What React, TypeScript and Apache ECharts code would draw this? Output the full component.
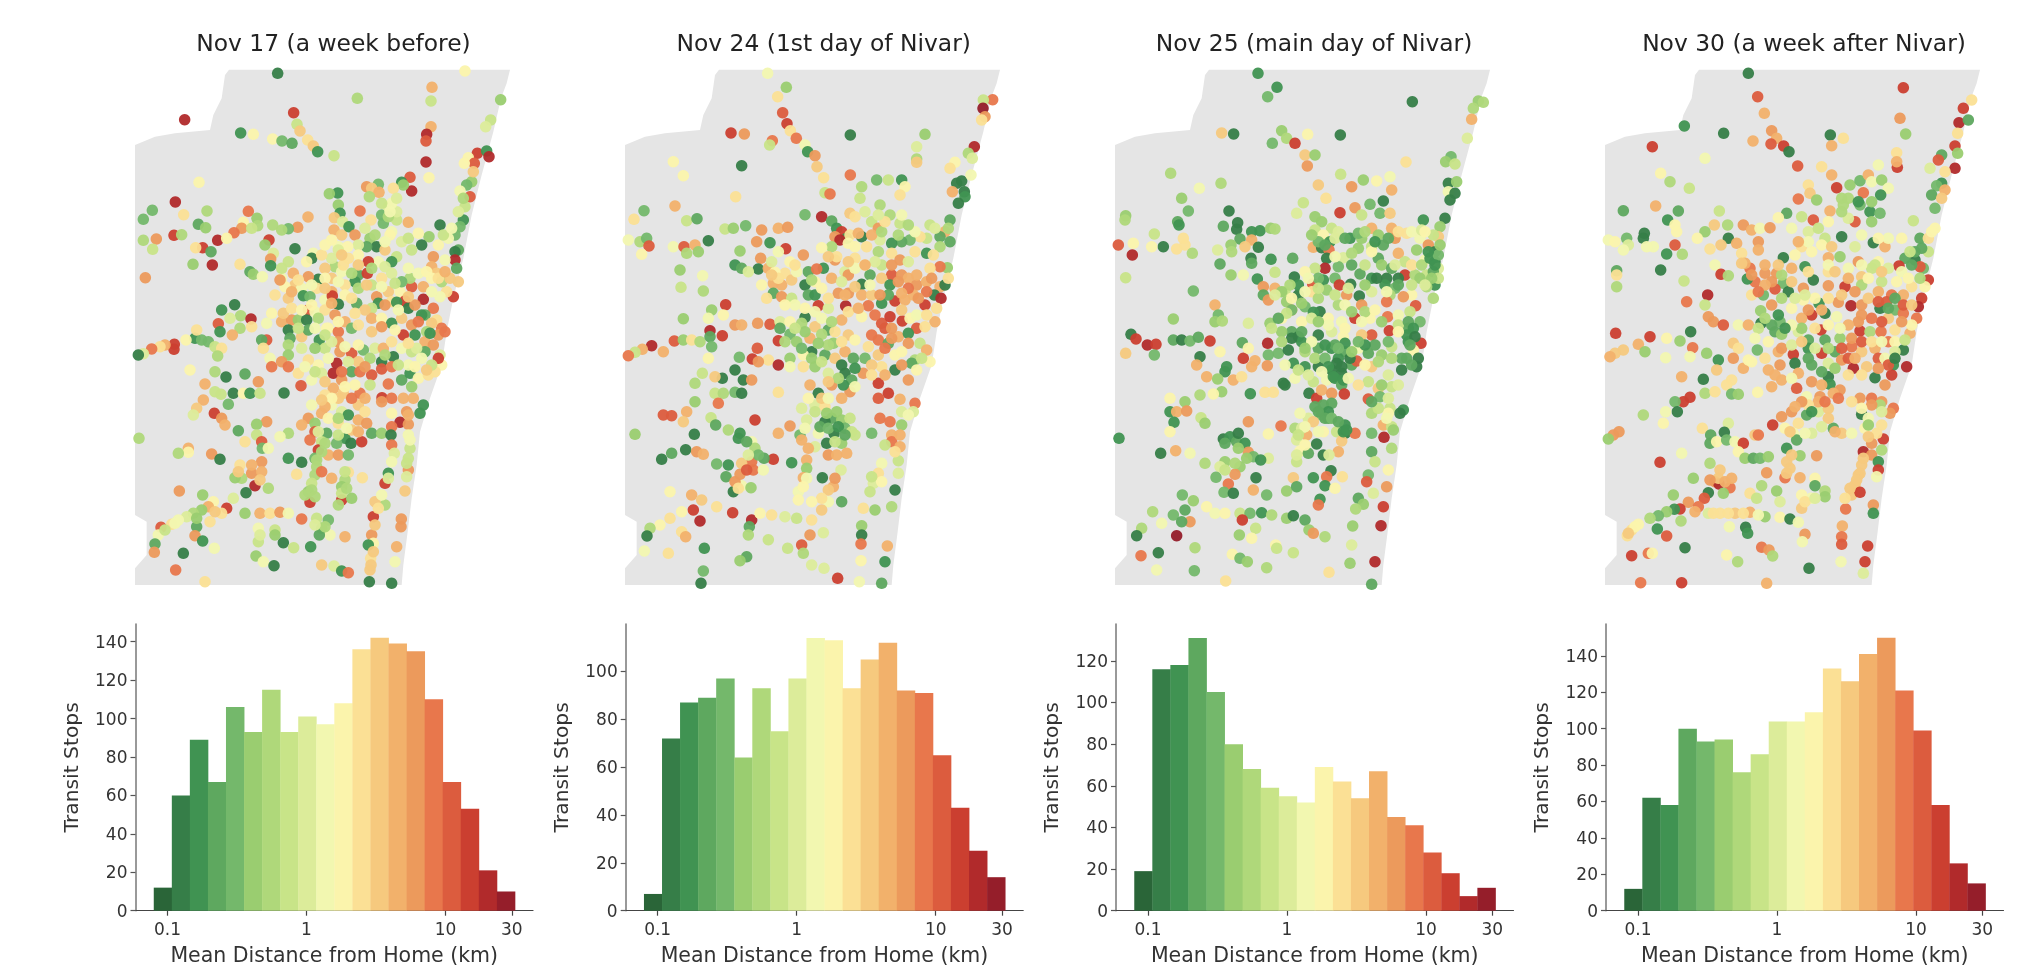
import React, { useEffect, useRef } from "react";
import * as echarts from "echarts";

const panelTitles = ["Nov 17 (a week before)", "Nov 24 (1st day of Nivar)", "Nov 25 (main day of Nivar)", "Nov 30 (a week after Nivar)"];
const binEdges = [0.0797, 0.1075, 0.1449, 0.1955, 0.2636, 0.3556, 0.4795, 0.6467, 0.8722, 1.176, 1.586, 2.139, 2.885, 3.891, 5.248, 7.078, 9.546, 12.87, 17.36, 23.42, 31.58];
const binColors = ["#2a6538", "#367e48", "#409352", "#5ea85f", "#74b86b", "#9acd70", "#afd87a", "#c8e488", "#dcec9a", "#f2f7b0", "#fbf4ac", "#fbe095", "#f6c97e", "#f2b16b", "#ec9a5c", "#e8774c", "#dc5c3e", "#cb3f30", "#b12a2b", "#951e2a"];
const xTicks = [0.1, 1, 10, 30];
const xTickLabels = ["0.1", "1", "10", "30"];
const countsNov17 = [12, 60, 89, 67, 106, 93, 115, 93, 101, 97, 108, 136, 142, 139, 135, 110, 67, 53, 21, 10];
const countsNov24 = [7, 72, 87, 89, 97, 64, 93, 75, 97, 114, 113, 93, 105, 112, 92, 91, 65, 43, 25, 14];
const countsNov25 = [19, 116, 118, 131, 105, 80, 68, 59, 55, 52, 69, 62, 54, 67, 45, 41, 28, 18, 7, 11];
const countsNov30 = [12, 62, 58, 100, 93, 94, 76, 86, 104, 104, 109, 133, 126, 141, 150, 121, 99, 58, 26, 15];
const yTicksNov17 = [0, 20, 40, 60, 80, 100, 120, 140];
const yTicksNov24 = [0, 20, 40, 60, 80, 100];
const yTicksNov25 = [0, 20, 40, 60, 80, 100, 120];
const yTicksNov30 = [0, 20, 40, 60, 80, 100, 120, 140];
const yMaxes = [149.2, 119.8, 137.7, 157.5];

const landOutline = [[300, 30], [312, 14], [1155, 14], [1145, 55], [1128, 100], [1105, 200], [1070, 330], [1040, 450], [1015, 580], [985, 700], [965, 800], [950, 900], [915, 1000], [885, 1100], [875, 1200], [860, 1300], [848, 1400], [835, 1500], [830, 1560], [30, 1560], [30, 1510], [65, 1470], [65, 1370], [30, 1350], [30, 240], [90, 215], [150, 205], [255, 195], [265, 150], [290, 100]];

const stopsNov17 = [[458,25,1],[1020,18,10],[921,67,13],[918,108,7],[697,100,6],[1127,104,5],[506,143,17],[179,164,18],[1097,165,7],[1082,185,8],[918,185,13],[905,208,18],[903,228,16],[347,204,2],[385,208,10],[516,178,7],[525,198,12],[443,222,10],[471,228,4],[501,235,3],[548,225,11],[565,243,12],[578,260,2],[627,272,7],[903,291,18],[1057,265,17],[1085,258,2],[1092,275,18],[1030,278,10],[1048,295,16],[1018,295,10],[222,352,10],[151,411,18],[82,436,4],[55,463,4],[246,438,6],[176,449,11],[55,526,6],[94,522,14],[83,553,7],[147,511,17],[170,509,6],[220,478,3],[242,488,5],[278,526,18],[233,548,17],[212,548,11],[258,560,3],[262,600,18],[204,598,5],[61,638,14],[370,439,15],[396,460,5],[398,482,6],[355,472,10],[350,490,14],[327,503,15],[305,520,10],[549,456,13],[518,487,14],[490,491,4],[470,495,6],[443,480,6],[380,490,7],[432,525,17],[1040,350,5],[1025,360,4],[1005,378,9],[1045,320,12],[1035,395,16],[1020,425,7],[1015,465,2],[1005,485,4],[990,510,4],[945,480,1],[912,515,5],[970,520,9],[1000,555,3],[990,560,1],[990,585,18],[995,610,3],[960,585,9],[925,575,14],[920,605,13],[935,625,12],[1000,650,12],[985,695,17],[965,680,11],[945,695,9],[855,337,16],[860,378,18],[830,352,2],[835,360,5],[912,338,10],[805,370,11],[760,358,4],[725,365,14],[740,370,12],[762,382,13],[733,395,6],[638,384,2],[613,386,5],[640,420,5],[645,445,2],[628,458,12],[653,470,8],[705,438,15],[738,465,11],[770,450,4],[790,425,8],[815,465,7],[815,440,8],[800,500,9],[850,472,13],[775,475,4],[790,455,6],[627,495,13],[650,510,12],[672,485,2],[690,510,14],[735,520,5],[755,545,1],[725,545,3],[700,540,8],[640,545,9],[620,525,10],[668,545,10],[795,510,10],[830,530,8],[890,540,1],[860,555,7],[815,575,7],[780,555,12],[800,590,2],[760,590,9],[730,590,17],[700,570,10],[670,580,11],[630,605,6],[600,610,12],[565,565,9],[560,580,1],[510,551,1],[420,540,5],[445,565,8],[437,582,14],[437,602,2],[490,590,7],[545,590,10],[375,620,3],[385,628,5],[412,635,9],[345,598,11],[470,640,9],[505,625,13],[470,610,7],[580,643,1],[700,630,3],[727,625,17],[690,650,2],[740,660,7],[660,660,11],[620,640,12],[550,635,14],[510,660,12],[480,665,10],[465,645,14],[530,670,9],[575,670,11],[620,680,13],[660,690,10],[700,670,6],[755,695,14],[790,680,12],[825,680,10],[860,665,16],[855,640,6],[800,625,8],[880,625,9],[920,640,10],[950,650,6],[830,650,4],[770,640,11],[535,692,2],[555,695,4],[490,700,12],[450,690,11],[600,705,9],[622,693,17],[640,718,1],[695,715,3],[760,715,2],[740,730,7],[800,710,11],[840,708,17],[895,703,18],[925,730,15],[850,730,1],[815,712,2],[870,720,14],[900,750,3],[935,765,11],[950,790,15],[329,719,1],[290,735,2],[347,752,6],[378,762,18],[315,760,8],[440,745,10],[280,776,16],[285,800,2],[345,790,6],[322,810,13],[380,785,11],[425,775,9],[470,770,13],[500,765,14],[520,765,5],[550,735,16],[545,765,1],[570,740,9],[600,735,11],[630,750,14],[660,770,13],[610,790,10],[640,800,15],[580,760,6],[680,790,4],[700,780,11],[740,760,13],[770,760,10],[800,775,2],[830,760,12],[860,780,14],[890,750,2],[920,775,12],[905,800,6],[940,810,14],[960,800,15],[210,820,2],[230,825,4],[250,830,4],[215,795,11],[183,825,10],[148,838,17],[147,853,17],[120,840,13],[105,845,11],[80,852,15],[55,866,8],[40,870,1],[270,845,7],[290,850,11],[278,873,6],[425,825,16],[410,825,3],[415,850,11],[435,880,9],[490,795,1],[495,820,3],[490,840,6],[530,815,12],[550,795,3],[583,825,2],[605,790,10],[640,830,14],[600,850,7],[570,850,5],[530,850,8],[490,870,5],[645,860,14],[680,865,16],[715,855,4],[750,850,8],[775,850,13],[835,810,17],[870,810,2],[900,830,13],[925,840,14],[800,830,11],[830,850,9],[860,860,7],[900,860,3],[945,870,8],[950,900,10],[940,880,17],[805,875,1],[770,890,1],[735,880,6],[700,890,12],[670,890,8],[635,895,18],[610,880,9],[580,900,10],[550,885,11],[195,915,10],[270,920,6],[303,936,1],[360,927,3],[400,950,14],[240,957,13],[528,962,16],[477,984,1],[440,905,15],[470,890,14],[490,905,15],[520,925,11],[560,945,9],[590,925,8],[625,925,18],[650,945,14],[680,920,3],[705,920,15],[740,930,16],[770,912,16],[800,905,15],[830,945,3],[855,925,2],[880,940,10],[910,930,11],[790,957,15],[860,965,5],[930,920,11],[625,970,13],[655,985,12],[705,985,15],[690,960,10],[600,990,11],[735,960,7],[325,985,1],[355,985,10],[375,985,2],[405,985,7],[288,988,7],[270,980,7],[771,998,17],[800,1000,15],[835,1000,13],[865,1000,13],[895,1020,2],[885,1045,2],[310,1018,4],[235,1005,13],[215,1030,12],[205,1050,8],[268,1045,17],[290,1060,14],[300,1080,13],[620,1020,9],[700,1020,12],[650,1040,8],[670,1050,2],[590,1045,13],[550,1060,14],[425,1070,14],[395,1078,5],[340,1097,3],[395,1110,7],[530,1080,13],[570,1075,5],[610,1060,10],[640,1075,11],[700,1065,13],[725,1075,14],[800,1045,10],[845,1040,14],[825,1072,18],[850,1078,14],[800,1085,15],[42,1120,6],[490,1105,6],[465,1115,9],[570,1100,16],[605,1105,3],[660,1120,2],[678,1135,1],[710,1130,17],[740,1105,3],[770,1105,5],[798,1110,1],[635,1135,4],[555,1125,15],[590,1130,7],[410,1130,16],[412,1150,4],[360,1130,11],[430,1150,9],[190,1150,13],[190,1162,10],[160,1165,6],[260,1167,14],[285,1183,1],[580,1155,17],[570,1180,4],[610,1170,13],[640,1170,14],[670,1170,4],[490,1180,2],[530,1192,1],[410,1190,14],[345,1200,11],[800,1140,15],[808,1165,8],[855,1150,7],[575,1205,6],[570,1230,6],[560,1255,7],[590,1220,15],[620,1240,13],[515,1228,11],[350,1240,6],[330,1238,5],[380,1225,14],[390,1262,18],[430,1270,6],[363,1283,1],[410,1220,13],[670,1222,11],[712,1238,11],[660,1245,6],[650,1265,5],[790,1225,2],[780,1255,17],[850,1215,14],[845,1235,8],[840,1278,12],[163,1278,14],[233,1290,5],[265,1310,10],[250,1325,13],[230,1335,5],[205,1345,6],[185,1355,8],[160,1365,9],[140,1378,11],[305,1330,17],[325,1300,8],[360,1345,5],[405,1345,13],[435,1345,11],[465,1342,14],[490,1345,9],[550,1280,5],[555,1312,17],[540,1290,6],[650,1305,17],[680,1300,5],[640,1320,6],[780,1320,6],[750,1310,12],[745,1355,17],[530,1362,15],[575,1360,7],[610,1365,4],[590,1390,5],[615,1410,9],[660,1415,13],[583,1410,3],[400,1390,9],[450,1395,7],[255,1370,11],[215,1385,3],[210,1412,14],[233,1428,2],[108,1387,16],[100,1410,9],[90,1437,3],[88,1462,14],[829,1362,14],[828,1385,14],[740,1410,14],[745,1435,10],[730,1440,2],[815,1445,13],[737,1480,11],[810,1490,9],[735,1515,12],[400,1430,7],[475,1433,1],[506,1448,7],[557,1445,2],[175,1465,1],[268,1450,9],[393,1473,5],[415,1490,9],[447,1502,1],[152,1515,15],[590,1500,12],[627,1503,8],[650,1518,2],[670,1523,15],[733,1550,1],[800,1555,1],[240,1550,11],[700,600,12],[650,620,9],[600,640,10],[560,660,9],[520,645,11],[500,680,13],[560,720,10],[620,715,13],[680,700,11],[720,735,12],[780,720,14],[820,735,9],[880,770,15],[915,805,2],[875,850,8],[850,900,9],[820,900,7],[780,870,6],[720,905,14],[650,920,15],[600,950,12],[570,920,7],[540,905,9],[660,845,9],[620,830,8],[700,840,10],[740,800,12],[770,785,14],[810,795,10],[850,835,11],[890,880,9],[920,900,7],[905,915,12],[870,905,10],[640,770,10],[690,745,11],[600,810,7],[570,790,9],[520,790,7],[475,745,12],[500,730,11],[530,735,10],[600,670,12],[640,650,9],[680,625,6],[725,660,12],[770,665,9],[810,655,7],[850,695,12],[895,665,13],[920,680,9],[940,640,11],[975,640,12],[960,620,13],[905,620,10],[850,610,9],[780,605,8],[740,610,6],[655,600,11],[620,580,8],[590,570,11],[780,530,9],[750,510,6],[720,490,8],[850,520,7],[880,505,10],[940,540,10],[955,510,7],[980,490,9],[1000,440,8],[1015,400,6],[800,415,9],[795,440,9],[815,400,8],[770,415,7],[640,555,8],[600,540,10],[650,570,12],[720,1000,13],[680,1000,15],[640,1000,12],[660,965,10],[620,1000,10],[600,1025,13],[590,1005,12],[560,1020,9],[640,1060,6],[580,1100,8],[600,1135,6],[590,1160,6],[575,1185,6],[680,1095,12],[700,1100,13],[640,1110,7],[665,1090,9],[720,1040,11],[770,1010,14],[850,1050,13],[850,1110,9],[855,1125,9],[850,1180,7],[845,1195,7],[800,1190,9],[790,1240,8],[770,1290,9],[760,1330,11],[750,1380,12],[745,1460,12],[738,1500,12],[560,1275,6],[570,1295,6],[650,1285,7],[660,1220,7],[665,1270,6],[150,1375,9],[120,1395,7],[405,1410,8],[450,1410,5],[600,1385,6],[570,1380,8],[380,1200,13],[340,1220,12],[405,1245,12],[290,1345,11],[270,1340,12],[215,1360,5]];

const stopsNov24 = [[458,25,9],[514,67,5],[488,95,11],[1133,104,15],[1105,105,7],[1104,130,19],[1110,155,14],[1100,165,11],[503,143,16],[516,176,17],[526,197,11],[348,204,17],[388,207,14],[544,220,15],[706,210,1],[930,208,5],[472,227,15],[464,240,7],[570,240,9],[578,260,2],[600,272,14],[606,305,12],[626,338,11],[1078,245,18],[1060,265,6],[1072,280,8],[1020,292,10],[1005,310,11],[905,245,8],[905,282,6],[905,292,12],[380,302,1],[175,290,10],[205,332,10],[706,330,15],[362,395,11],[180,423,13],[87,437,4],[57,463,11],[40,525,9],[75,530,6],[95,520,4],[102,543,16],[80,568,10],[175,545,9],[207,545,16],[215,565,6],[240,540,13],[250,560,5],[280,527,1],[215,467,7],[246,461,3],[195,615,5],[198,667,7],[263,632,9],[265,678,6],[375,558,5],[570,449,4],[620,455,18],[1040,348,1],[1025,355,1],[1068,330,9],[1012,380,13],[1048,380,1],[1050,395,2],[1030,415,1],[785,345,4],[820,345,7],[860,345,2],[870,365,10],[855,390,11],[740,365,6],[735,400,7],[630,383,7],[645,387,15],[795,420,6],[705,445,12],[720,455,11],[750,440,8],[770,470,7],[825,450,6],[855,475,7],[790,490,14],[1005,465,3],[990,500,13],[975,515,3],[945,480,7],[935,520,7],[1005,530,3],[975,545,6],[935,565,2],[915,515,11],[885,525,4],[860,530,3],[830,535,2],[795,525,8],[650,468,3],[665,490,2],[680,500,17],[695,520,2],[660,515,14],[675,525,18],[740,515,1],[705,510,11],[650,545,6],[620,548,10],[755,545,11],[720,545,10],[790,560,6],[830,565,11],[855,585,14],[900,560,11],[880,590,8],[955,570,11],[997,608,5],[975,605,15],[945,610,11],[330,492,7],[355,490,5],[392,482,4],[440,495,14],[490,490,13],[518,487,14],[425,530,14],[465,533,2],[512,551,17],[490,560,9],[437,580,14],[565,570,14],[525,590,10],[430,612,1],[360,600,2],[380,610,3],[400,620,8],[460,610,13],[510,625,11],[480,622,10],[625,610,2],[580,620,3],[605,612,15],[660,585,14],[665,575,11],[720,580,11],[690,620,8],[765,630,3],[830,630,16],[800,640,12],[860,630,14],[880,640,13],[905,660,14],[935,650,13],[975,665,13],[990,660,1],[1000,640,11],[570,660,1],[740,658,1],[475,655,13],[475,685,3],[500,695,14],[530,700,7],[455,700,11],[580,690,3],[600,690,2],[620,670,10],[670,685,14],[700,685,14],[740,690,13],[770,690,12],[800,715,2],[825,660,2],[840,708,17],[870,705,13],[895,690,13],[930,720,17],[958,690,1],[978,700,18],[610,722,17],[640,730,8],[692,723,18],[760,722,15],[965,730,11],[332,719,17],[290,735,5],[325,750,10],[205,761,5],[280,760,9],[285,797,18],[322,812,17],[360,780,14],[380,780,13],[428,775,14],[465,778,16],[495,770,8],[525,770,10],[570,757,1],[680,765,13],[740,755,10],[800,775,16],[825,755,17],[862,768,17],[905,790,16],[960,770,13],[930,785,11],[640,795,3],[600,785,12],[560,775,6],[525,808,4],[495,790,3],[545,830,5],[585,820,13],[620,808,6],[660,800,11],[700,810,12],[770,810,15],[790,825,15],[820,835,3],[850,815,13],[880,805,2],[915,835,7],[178,828,16],[205,825,5],[230,825,11],[255,830,6],[285,815,3],[110,842,18],[82,853,13],[60,862,7],[40,872,15],[145,860,13],[290,845,4],[490,827,17],[427,850,16],[412,882,17],[373,877,4],[280,880,10],[590,860,1],[525,880,5],[565,870,10],[630,870,3],[655,835,5],[690,860,13],[715,880,3],[750,880,4],[790,870,12],[840,870,10],[900,885,6],[935,855,13],[945,890,10],[460,885,11],[490,900,18],[430,890,14],[360,915,1],[385,945,1],[410,945,14],[322,940,1],[300,935,12],[262,925,7],[240,955,6],[525,905,9],[565,905,11],[600,905,5],[640,925,8],[690,925,1],[710,945,3],[745,925,14],[800,905,11],[840,915,1],[890,895,3],[880,945,14],[610,985,1],[490,982,11],[585,960,13],[650,960,14],[790,955,17],[820,985,17],[790,1000,16],[855,1003,13],[705,980,14],[685,960,2],[300,985,7],[325,985,6],[360,982,4],[380,985,1],[310,1015,15],[240,1010,5],[215,1040,13],[205,1070,12],[145,1050,16],[170,1052,16],[288,1058,7],[302,1080,3],[420,1065,17],[900,1015,15],[895,1040,8],[60,1108,5],[238,1108,1],[375,1105,2],[370,1120,2],[340,1095,6],[525,1083,14],[490,1105,13],[575,1065,8],[600,1020,8],[630,1025,11],[650,1060,3],[630,1070,1],[680,1065,5],[705,1060,7],[690,1090,4],[657,1105,1],[610,1105,9],[555,1110,4],[570,1090,9],[720,1110,7],[770,1105,4],[795,1060,15],[825,1070,15],[860,1080,5],[830,1110,13],[830,1130,15],[855,1145,13],[810,1140,7],[560,1125,13],[635,1135,1],[680,1135,5],[410,1130,9],[420,1150,6],[640,1170,14],[665,1170,13],[695,1165,13],[140,1183,1],[170,1165,3],[212,1154,1],[245,1160,14],[265,1168,13],[475,1183,17],[447,1180,3],[530,1193,2],[410,1190,15],[380,1195,12],[340,1200,2],[305,1197,4],[575,1185,13],[800,1195,9],[850,1187,7],[575,1210,5],[678,1215,8],[333,1235,3],[375,1228,14],[380,1262,9],[415,1215,15],[445,1215,9],[355,1280,1],[408,1268,5],[565,1238,13],[622,1238,1],[655,1265,13],[790,1225,11],[775,1255,8],[840,1275,1],[165,1280,10],[230,1290,13],[550,1280,9],[550,1305,10],[640,1310,9],[680,1310,3],[765,1280,7],[780,1335,5],[830,1325,6],[745,1330,11],[260,1305,12],[305,1325,11],[235,1335,17],[255,1368,18],[353,1343,17],[410,1365,18],[435,1345,10],[470,1350,11],[510,1355,8],[545,1360,7],[590,1365,11],[620,1335,12],[200,1340,10],[165,1360,11],[135,1380,10],[105,1390,6],[96,1413,1],[200,1400,11],[212,1415,13],[403,1385,3],[400,1410,6],[460,1424,7],[585,1410,14],[625,1403,8],[740,1382,5],[740,1410,1],[738,1437,15],[560,1440,16],[518,1450,7],[565,1465,6],[817,1443,13],[88,1458,9],[160,1465,11],[268,1450,2],[395,1475,3],[375,1487,5],[590,1500,8],[627,1510,8],[738,1487,10],[810,1490,2],[668,1540,17],[265,1518,4],[258,1555,1],[733,1550,9],[800,1555,3],[700,630,14],[720,610,9],[750,600,10],[800,600,7],[830,600,14],[850,650,14],[880,670,15],[905,630,13],[935,680,15],[950,640,14],[910,700,14],[860,685,13],[820,690,3],[795,690,14],[765,660,9],[720,665,12],[690,690,13],[640,700,11],[600,740,9],[570,730,10],[540,720,9],[510,720,10],[500,660,13],[530,645,12],[545,620,9],[490,640,11],[470,630,12],[440,660,10],[620,760,9],[650,770,6],[700,740,11],[730,730,13],[780,750,15],[810,790,16],[830,790,14],[860,735,12],[885,760,10],[905,750,9],[935,750,11],[880,835,14],[860,860,10],[830,820,14],[810,850,15],[760,845,11],[720,825,10],[680,830,11],[640,840,6],[610,835,5],[570,800,5],[540,790,7],[510,830,6],[560,850,4],[590,880,5],[620,890,7],[660,880,12],[680,900,1],[720,910,2],[770,900,12],[810,930,13],[860,900,14],[920,880,7],[905,915,10],[770,930,11],[720,965,9],[670,940,6],[640,950,12],[620,1000,12],[600,1040,7],[580,1000,10],[560,1030,8],[640,1000,9],[680,1000,13],[635,1045,5],[665,1040,5],[615,1085,3],[640,1090,4],[670,1085,2],[660,1130,7],[710,1100,7],[600,1145,8],[580,1150,13],[690,1110,3],[860,1040,8],[880,1050,9],[855,1110,13],[840,1160,11],[850,1225,8],[800,1250,10],[770,1235,7],[575,1240,9],[565,1265,10],[660,1240,14],[640,1275,12],[620,1300,11],[590,1310,10],[395,1130,3],[430,1170,4],[400,1170,8],[395,1215,16],[360,1250,14],[370,1270,11],[700,535,10],[730,505,13],[770,510,13],[800,500,6],[850,510,6],[960,490,8],[900,500,9],[1000,490,6],[860,450,9],[880,480,6],[810,470,11],[790,450,8],[780,590,8],[750,600,13],[700,590,12],[650,640,13],[600,650,10],[680,650,8],[590,645,6],[540,600,11],[470,590,8],[640,575,12]];

const stopsNov25 = [[459,25,2],[516,67,2],[488,95,4],[922,110,1],[1120,108,5],[1135,112,6],[1105,130,6],[1100,163,13],[1087,220,8],[350,204,12],[386,207,1],[530,197,5],[545,220,6],[570,235,17],[502,235,4],[608,208,10],[706,210,1],[600,270,12],[630,270,5],[607,303,14],[1038,275,4],[1022,290,5],[1050,297,7],[903,291,11],[197,325,6],[348,355,6],[283,370,9],[707,328,7],[640,360,12],[230,400,5],[250,438,4],[62,452,5],[60,465,6],[218,470,3],[222,480,2],[372,438,1],[398,473,1],[355,484,3],[395,493,1],[148,507,7],[175,545,1],[85,535,10],[40,540,16],[82,570,18],[140,545,10],[215,552,11],[240,540,11],[235,520,11],[262,565,6],[62,638,7],[265,678,4],[440,500,2],[465,497,2],[497,490,5],[510,492,6],[405,522,3],[440,525,13],[460,547,1],[378,540,5],[338,555,8],[345,597,3],[378,630,5],[438,580,1],[440,595,3],[498,583,2],[563,580,3],[415,630,9],[457,642,2],[510,622,7],[1030,355,1],[1055,350,5],[1030,380,9],[1050,385,1],[1035,405,1],[740,365,14],[775,345,5],[815,348,10],[860,375,13],[855,335,9],[663,400,11],[595,413,7],[575,445,8],[835,408,1],[795,418,4],[750,428,14],[705,443,17],[770,450,7],[825,445,4],[855,445,12],[630,455,5],[650,470,5],[955,465,2],[1020,460,1],[1005,485,5],[630,495,7],[680,490,7],[800,490,13],[860,490,13],[905,505,11],[735,520,2],[770,520,5],[820,510,5],[655,510,10],[675,530,2],[625,547,13],[650,548,1],[672,555,15],[760,550,5],[800,545,7],[835,540,3],[870,520,14],[945,520,9],[1000,515,12],[970,540,14],[990,560,1],[935,555,5],[880,565,13],[715,578,8],[665,580,1],[820,580,3],[900,590,7],[960,585,9],[990,590,1],[660,610,18],[630,610,7],[600,620,10],[765,627,3],[800,640,2],[845,640,1],[900,630,17],[930,630,6],[880,640,1],[830,600,5],[1000,610,8],[965,630,7],[568,636,1],[655,645,2],[690,640,4],[623,657,16],[703,660,17],[737,658,1],[990,660,2],[965,665,6],[840,660,2],[870,670,4],[920,690,10],[895,695,14],[475,665,14],[475,690,3],[510,670,13],[540,680,7],[580,690,1],[620,680,11],[665,675,5],[725,690,14],[763,693,1],[800,680,8],[855,690,6],[985,700,6],[490,705,14],[545,710,5],[600,725,4],[645,740,1],[625,742,2],[700,720,6],[770,720,14],[845,710,15],[932,722,16],[330,720,13],[340,750,4],[330,770,5],[352,768,6],[205,762,5],[430,775,8],[750,760,17],[848,755,15],[915,740,7],[880,750,9],[670,760,10],[560,735,13],[530,760,10],[495,775,5],[590,770,10],[620,760,8],[710,770,9],[795,760,10],[945,770,4],[800,810,16],[853,797,17],[770,810,12],[910,790,3],[78,808,1],[93,822,17],[127,840,18],[153,838,17],[205,825,3],[230,825,1],[255,828,4],[280,817,3],[315,828,17],[412,833,3],[488,835,18],[560,800,3],[580,815,1],[530,800,5],[640,810,1],[680,800,8],[715,815,10],[590,830,2],[62,865,12],[148,870,4],[285,875,1],[345,860,10],[415,880,17],[430,850,10],[450,887,13],[490,870,4],[520,865,4],[550,855,1],[600,860,6],[640,850,3],[680,850,2],[720,860,3],[760,850,9],[790,865,3],[830,870,5],[860,845,7],[910,830,2],[948,835,17],[925,855,10],[940,880,1],[905,880,3],[275,900,13],[365,905,2],[360,920,2],[440,905,13],[487,902,14],[565,895,2],[600,905,2],[640,905,1],[680,915,1],[710,925,1],[740,900,3],[755,888,16],[800,905,12],[850,930,8],[890,915,1],[935,905,1],[305,935,13],[338,942,5],[385,945,13],[410,935,11],[535,955,1],[570,940,9],[625,950,7],[665,945,9],[690,940,2],[710,960,3],[860,965,7],[350,980,5],[285,990,6],[325,987,10],[436,986,2],[480,982,11],[505,982,11],[612,985,1],[635,1000,17],[650,975,13],[680,985,14],[718,987,17],[820,970,12],[790,1002,16],[825,995,4],[195,1000,10],[240,1010,5],[630,1025,3],[680,1015,3],[855,1030,7],[895,1035,2],[885,1045,1],[195,1040,2],[215,1040,13],[245,1038,14],[207,1072,2],[288,1058,7],[300,1075,5],[650,1050,4],[670,1060,3],[610,1060,8],[585,1045,9],[800,1045,6],[850,1045,10],[430,1070,14],[528,1083,15],[570,1090,6],[625,1070,12],[720,1080,2],[835,1080,13],[860,1085,7],[195,1100,10],[42,1120,2],[355,1122,1],[375,1115,2],[395,1130,3],[420,1135,2],[490,1107,10],[605,1110,13],[590,1090,8],[655,1100,10],[695,1100,7],[720,1105,1],[750,1105,15],[800,1105,4],[837,1117,18],[865,1095,5],[575,1125,8],[635,1137,1],[710,1128,12],[212,1157,13],[255,1165,9],[167,1165,1],[430,1162,14],[445,1175,4],[490,1180,8],[467,1185,2],[585,1158,10],[610,1165,3],[655,1170,1],[700,1160,13],[672,1170,8],[800,1160,3],[860,1150,6],[300,1195,6],[360,1190,5],[345,1205,8],[405,1205,5],[575,1190,7],[810,1190,7],[850,1215,10],[678,1217,1],[390,1228,14],[333,1237,4],[453,1238,1],[565,1238,12],[625,1238,2],[712,1235,11],[665,1235,15],[790,1230,4],[785,1250,16],[370,1257,15],[660,1262,2],[690,1270,10],[845,1265,14],[357,1282,4],[385,1285,1],[445,1275,13],[545,1278,5],[575,1265,3],[485,1290,4],[232,1290,4],[805,1285,8],[760,1300,3],[645,1303,2],[265,1307,5],[775,1318,5],[640,1320,15],[835,1325,17],[752,1332,6],[143,1340,6],[240,1335,3],[205,1350,4],[305,1325,10],[330,1345,9],[360,1345,10],[405,1345,7],[435,1345,4],[470,1343,2],[500,1350,6],[545,1360,5],[565,1352,1],[600,1365,3],[255,1370,14],[230,1370,3],[412,1365,17],[170,1375,9],[828,1382,18],[110,1390,6],[95,1412,1],[215,1412,19],[403,1410,5],[452,1390,7],[743,1383,5],[612,1395,5],[625,1405,14],[660,1415,6],[440,1420,10],[512,1440,10],[515,1450,7],[740,1440,8],[270,1448,6],[108,1472,15],[160,1463,1],[382,1468,10],[405,1480,4],[565,1463,7],[427,1490,5],[735,1495,5],[810,1490,18],[485,1508,6],[155,1515,9],[268,1517,4],[672,1522,11],[362,1548,11],[800,1558,3],[700,605,4],[740,600,3],[780,600,7],[860,610,3],[815,640,1],[870,600,8],[920,600,11],[945,640,5],[985,620,3],[950,600,6],[975,580,2],[1000,570,4],[800,560,10],[740,565,6],[690,575,9],[640,640,4],[610,640,9],[580,660,2],[555,660,6],[530,680,5],[510,690,8],[560,700,10],[590,715,5],[640,700,6],[690,690,7],[720,720,9],[740,740,5],[780,740,6],[810,735,10],[830,770,5],[880,780,7],[910,770,3],[925,790,2],[905,810,2],[930,815,1],[915,840,3],[880,800,10],[850,830,4],[810,840,3],[780,840,2],[760,830,4],[720,835,2],[690,840,3],[660,840,2],[620,830,9],[590,800,3],[560,820,1],[530,830,6],[600,850,5],[630,880,6],[660,880,4],[700,880,2],[735,880,1],[710,905,1],[695,895,1],[670,905,2],[685,935,2],[715,945,2],[650,920,9],[610,930,8],[580,915,7],[540,900,9],[540,960,1],[655,1020,3],[670,1040,2],[660,1060,3],[640,1040,3],[680,1060,4],[600,1085,9],[580,1110,7],[640,1100,9],[700,1070,3],[715,1100,2],[725,1095,2],[600,1140,10],[575,1170,8],[850,1000,8],[845,1060,9],[820,1030,7],[800,1010,3],[880,960,8],[830,960,5],[790,950,7],[760,960,11],[730,940,9],[920,900,3],[890,880,3],[860,880,6],[820,890,6],[780,900,10],[740,860,5],[700,850,4],[420,545,12],[380,560,6],[640,530,4],[620,510,5],[660,540,3],[690,520,8],[700,500,8],[720,520,3],[760,505,4],[780,500,6],[810,530,2],[850,520,3],[880,500,11],[920,500,9],[950,495,8],[985,510,7],[960,500,10],[1005,540,5],[970,560,2],[990,600,2],[1000,640,7],[980,640,5],[960,660,8],[920,660,7],[880,660,3],[845,680,9],[780,660,5],[730,670,8],[640,670,7],[600,680,9],[560,735,4],[545,745,7],[520,760,3],[500,790,7],[770,770,9],[720,790,10],[670,780,9],[640,770,5],[360,1135,3],[400,1150,5],[400,1105,1],[425,1180,5],[390,1195,6],[360,1215,7]];

const stopsNov30 = [[460,25,1],[925,68,17],[1130,105,11],[488,95,16],[1105,130,17],[508,145,13],[915,160,14],[1092,173,18],[1120,165,3],[1088,205,11],[268,183,2],[386,205,1],[932,207,5],[706,210,1],[745,220,11],[530,197,14],[545,220,13],[474,228,13],[528,237,16],[566,243,17],[582,260,1],[172,245,17],[710,242,13],[905,263,11],[1080,243,17],[1040,270,3],[1030,285,16],[1088,265,5],[1080,310,18],[1050,320,11],[1005,310,8],[907,307,17],[905,290,13],[608,303,16],[330,280,9],[197,325,10],[680,305,11],[710,330,13],[850,300,9],[225,350,6],[283,370,7],[640,360,11],[645,385,12],[1040,355,2],[1025,362,4],[1050,375,13],[1010,390,3],[1040,400,12],[725,368,17],[765,360,5],[795,347,4],[820,330,13],[830,350,9],[860,345,5],[880,370,9],[857,390,2],[805,383,15],[740,400,6],[610,402,15],[665,405,5],[182,423,13],[85,437,3],[250,438,3],[373,438,7],[218,465,2],[240,480,10],[245,500,10],[358,480,12],[398,480,6],[330,500,5],[307,520,10],[148,505,1],[145,520,1],[40,525,9],[95,520,4],[100,540,8],[60,530,10],[85,555,9],[240,540,16],[215,567,2],[262,568,6],[175,545,9],[155,545,9],[197,615,1],[65,617,3],[65,630,11],[65,665,6],[267,648,7],[575,445,3],[550,458,10],[620,455,7],[705,438,13],[795,420,4],[825,440,2],[855,445,4],[745,420,6],[655,465,16],[1020,430,4],[955,467,7],[1020,490,10],[445,480,14],[470,495,13],[495,490,9],[525,488,14],[400,520,1],[378,540,12],[425,535,13],[490,530,14],[440,565,11],[490,555,13],[345,552,11],[565,578,1],[620,545,11],[640,500,8],[690,520,7],[740,515,1],[780,470,16],[830,470,5],[800,510,9],[835,533,1],[870,545,13],[780,545,8],[735,575,5],[700,578,13],[650,560,10],[920,520,10],[975,520,3],[1000,520,11],[960,585,1],[930,580,3],[912,603,17],[985,610,4],[1000,645,17],[975,605,16],[850,590,10],[790,590,14],[830,610,7],[760,610,9],[700,620,11],[655,645,1],[630,605,2],[590,610,13],[545,625,14],[510,625,14],[465,610,15],[480,650,15],[360,600,9],[378,628,17],[400,632,6],[457,642,2],[565,655,4],[800,635,12],[860,650,7],[905,650,10],[950,665,11],[990,665,10],[980,700,17],[970,725,18],[338,690,18],[275,710,15],[330,720,7],[470,690,11],[505,690,4],[540,672,16],[580,680,1],[625,670,14],[700,662,14],[750,665,17],[800,660,6],[850,680,13],[890,690,15],[925,690,13],[768,722,18],[730,712,14],[672,715,2],[625,705,10],[560,700,6],[590,730,10],[530,720,14],[497,737,5],[855,730,1],[900,735,4],[925,745,15],[875,710,16],[340,755,14],[355,770,14],[385,780,16],[430,780,9],[460,780,13],[498,775,1],[555,770,4],[650,750,17],[690,745,1],[725,755,9],[800,750,14],[965,760,15],[620,760,13],[62,805,17],[165,815,17],[130,838,13],[150,860,5],[215,820,10],[255,828,5],[287,800,1],[293,848,15],[335,865,5],[85,855,12],[60,865,12],[45,875,13],[212,878,9],[285,875,9],[370,885,2],[415,835,12],[430,850,11],[415,880,14],[445,910,13],[460,885,10],[487,855,4],[540,800,3],[560,808,5],[610,800,8],[640,825,3],[678,795,17],[690,825,3],[735,820,5],[795,798,17],[825,800,6],[858,800,15],[900,795,11],[945,805,13],[925,855,1],[880,830,15],[840,850,13],[800,860,12],[770,845,15],[720,860,3],[680,865,17],[640,850,2],[595,868,17],[550,860,13],[510,880,11],[470,890,10],[600,895,1],[650,900,3],[700,895,8],[740,885,14],[775,910,18],[815,905,12],[895,900,2],[935,905,18],[555,900,14],[520,915,13],[260,935,13],[325,943,1],[365,915,12],[410,945,11],[395,960,11],[700,935,1],[560,945,13],[650,950,14],[605,970,16],[840,938,1],[890,930,17],[870,960,14],[705,958,2],[530,965,13],[735,975,14],[330,985,6],[360,980,11],[410,987,4],[430,988,5],[488,982,10],[635,995,9],[675,995,14],[715,985,13],[795,1000,14],[830,1000,15],[860,1010,14],[285,997,17],[265,1010,17],[240,1010,4],[247,1040,1],[212,1040,9],[145,1050,6],[205,1075,10],[895,1030,15],[855,1020,6],[885,1045,14],[800,1048,1],[590,1040,14],[635,1050,3],[610,1075,11],[670,1040,8],[700,1030,12],[560,1055,14],[533,1080,17],[400,1075,8],[322,1090,11],[72,1100,14],[55,1110,14],[40,1122,5],[388,1102,1],[347,1110,3],[345,1135,3],[365,1130,10],[395,1125,4],[420,1130,9],[445,1135,17],[480,1110,12],[490,1110,15],[595,1105,9],[650,1105,8],[715,1090,3],[740,1105,12],[770,1105,9],[810,1090,10],[860,1080,11],[865,1122,17],[830,1135,14],[605,1125,3],[575,1150,2],[805,1160,18],[830,1170,14],[860,1155,6],[195,1192,17],[260,1165,9],[430,1160,10],[450,1180,5],[475,1180,3],[495,1180,4],[520,1175,5],[665,1172,14],[615,1172,5],[575,1190,12],[800,1200,12],[850,1190,2],[850,1215,17],[345,1195,6],[375,1215,12],[515,1223,14],[295,1240,5],[570,1238,15],[615,1238,13],[660,1240,10],[790,1230,12],[845,1235,9],[360,1250,14],[372,1257,18],[405,1268,15],[660,1262,3],[690,1278,6],[545,1278,5],[500,1262,6],[780,1260,12],[770,1290,12],[340,1283,1],[385,1285,5],[465,1285,11],[235,1290,5],[690,1295,5],[795,1282,17],[328,1300,16],[648,1300,9],[280,1312,14],[310,1325,15],[485,1300,7],[555,1310,8],[835,1320,14],[835,1345,2],[620,1330,12],[752,1332,15],[255,1332,17],[238,1333,2],[215,1340,5],[190,1352,4],[165,1360,6],[130,1378,10],[110,1395,11],[97,1412,11],[258,1368,6],[340,1345,8],[375,1345,11],[420,1345,12],[465,1342,13],[510,1355,5],[555,1357,10],[585,1362,1],[610,1372,9],[187,1392,2],[403,1385,9],[452,1387,1],[458,1405,2],[215,1413,16],[630,1408,14],[742,1383,13],[740,1415,15],[740,1438,16],[622,1430,9],[818,1443,17],[500,1447,15],[522,1455,14],[533,1473,6],[270,1448,1],[110,1472,17],[160,1465,15],[172,1465,10],[395,1470,10],[428,1490,6],[738,1490,9],[810,1490,17],[642,1510,1],[805,1525,8],[260,1553,17],[137,1553,15],[515,1555,13],[700,600,9],[720,620,12],[760,640,13],[800,600,9],[840,600,7],[880,610,8],[920,620,9],[950,600,3],[940,640,10],[975,640,6],[860,620,12],[820,640,10],[780,680,14],[740,690,12],[700,700,11],[660,700,10],[630,690,8],[590,650,12],[560,630,6],[530,650,14],[510,660,13],[490,680,15],[470,630,14],[450,595,13],[510,600,13],[600,700,8],[640,735,14],[680,735,13],[700,780,10],[660,790,11],[620,790,5],[590,780,9],[570,790,2],[550,750,2],[530,780,3],[510,760,6],[490,790,7],[480,820,9],[520,830,10],[560,850,14],[590,840,8],[620,830,12],[660,850,8],[700,850,6],[740,850,16],[770,820,14],[800,830,16],[830,830,11],[860,830,9],[900,830,10],[900,860,8],[930,825,7],[950,780,10],[920,770,14],[880,760,12],[860,770,16],[830,760,15],[790,770,14],[760,780,13],[735,790,9],[800,720,14],[820,700,12],[850,710,16],[880,730,3],[900,700,3],[925,720,16],[950,720,12],[760,880,16],[780,880,13],[850,880,16],[870,880,9],[880,900,16],[900,880,1],[850,910,14],[800,930,11],[760,930,11],[720,910,5],[680,920,3],[640,880,3],[610,925,13],[590,940,9],[540,930,13],[680,960,13],[670,1010,13],[640,1020,11],[620,1010,14],[600,1025,13],[650,1040,2],[690,1010,15],[730,1000,15],[830,1020,14],[800,1030,10],[770,1010,11],[860,1040,8],[820,1060,9],[820,1080,5],[845,1105,11],[820,1115,12],[700,1060,12],[720,1100,13],[680,1085,8],[630,1105,9],[570,1090,10],[585,1100,12],[590,1170,12],[585,1210,12],[575,1225,12],[795,1225,12],[805,1180,12],[785,1245,12],[765,1270,12],[750,1300,11],[620,1290,10],[630,1310,11],[660,1300,8],[300,1340,13],[355,1345,11],[400,1345,11],[445,1345,11],[490,1350,9],[120,1385,10],[100,1405,12],[370,1240,12],[390,1250,13],[410,1240,13],[345,1245,14],[880,520,9],[850,520,10],[960,560,3],[945,560,7],[1000,560,7],[980,550,3],[1010,500,10],[760,460,8],[740,440,6],[760,400,6],[790,410,2],[830,410,5],[700,470,10],[670,490,7],[640,530,9],[680,540,10],[710,545,12],[590,490,9],[610,530,13],[600,570,10],[550,600,12],[440,595,12],[640,620,11]];

const allStops = [stopsNov17, stopsNov24, stopsNov25, stopsNov30];
const allCounts = [countsNov17, countsNov24, countsNov25, countsNov30];
const allYTicks = [yTicksNov17, yTicksNov24, yTicksNov25, yTicksNov30];

const FONT = "DejaVu Sans";
const TEXT = "#333333";

function buildOption() {
  const mapLefts = [125, 615, 1105, 1595];
  const histLefts = [135.5, 625.7, 1116, 1606];
  const grid: any[] = [];
  const xAxis: any[] = [];
  const yAxis: any[] = [];
  const series: any[] = [];
  const title: any[] = [];

  mapLefts.forEach((left, i) => {
    grid.push({ left, top: 65, width: 400, height: 525 });
    xAxis.push({ gridIndex: i, type: "value", min: 0, max: 1200, show: false });
    yAxis.push({ gridIndex: i, type: "value", min: 0, max: 1575, inverse: true, show: false });
    title.push({
      text: panelTitles[i],
      left: histLefts[i] + 193,
      top: 26,
      textAlign: "center",
      textStyle: { fontFamily: FONT, fontSize: 23.4, fontWeight: "normal", color: "#222222" },
    });
    series.push({
      type: "custom",
      xAxisIndex: i,
      yAxisIndex: i,
      silent: true,
      data: [0],
      renderItem: (_p: any, api: any) => ({
        type: "polygon",
        shape: { points: landOutline.map((pt) => api.coord(pt)) },
        style: { fill: "#e5e5e5" },
      }),
    });
    series.push({
      type: "scatter",
      xAxisIndex: i,
      yAxisIndex: i,
      silent: true,
      symbolSize: 11.5,
      data: allStops[i],
      itemStyle: { opacity: 0.95, color: (p: any) => binColors[p.value[2]] },
    });
  });

  histLefts.forEach((left, i) => {
    const g = 4 + i;
    grid.push({ left, top: 624, width: 397.5, height: 286.7 });
    xAxis.push({
      gridIndex: g,
      type: "log",
      logBase: 10,
      min: 0.0589,
      max: 42.6,
      name: "Mean Distance from Home (km)",
      nameLocation: "middle",
      nameGap: 34,
      nameTextStyle: { fontFamily: FONT, fontSize: 20.5, color: TEXT },
      axisLine: { onZero: false, lineStyle: { color: "#444444", width: 1.2 } },
      axisTick: { customValues: xTicks, length: 5, lineStyle: { color: "#444444", width: 1.2 } },
      minorTick: { show: false },
      splitLine: { show: false },
      axisLabel: {
        customValues: xTicks,
        margin: 10,
        fontFamily: FONT,
        fontSize: 17,
        color: TEXT,
        formatter: (v: number) => xTickLabels[xTicks.findIndex((t) => Math.abs(t - v) < t * 0.01)] ?? "",
      },
    });
    yAxis.push({
      gridIndex: g,
      type: "value",
      min: 0,
      max: yMaxes[i],
      name: "Transit Stops",
      nameLocation: "middle",
      nameGap: 55,
      nameTextStyle: { fontFamily: FONT, fontSize: 20.3, color: TEXT },
      axisLine: { show: true, lineStyle: { color: "#777777", width: 1.5 } },
      axisTick: { show: true, customValues: allYTicks[i], length: 5, lineStyle: { color: "#555555", width: 1.2 } },
      splitLine: { show: false },
      axisLabel: { customValues: allYTicks[i], margin: 8, fontFamily: FONT, fontSize: 17, color: TEXT },
    });
    series.push({
      type: "custom",
      xAxisIndex: g,
      yAxisIndex: g,
      silent: true,
      encode: { x: [0, 1], y: 2 },
      data: allCounts[i].map((v, b) => [binEdges[b], binEdges[b + 1], v, b]),
      renderItem: (_p: any, api: any) => {
        const topLeft = api.coord([api.value(0), api.value(2)]);
        const bottomRight = api.coord([api.value(1), 0]);
        return {
          type: "rect",
          shape: {
            x: topLeft[0],
            y: topLeft[1],
            width: bottomRight[0] - topLeft[0] + 0.4,
            height: bottomRight[1] - topLeft[1],
          },
          style: { fill: binColors[api.value(3)] },
        };
      },
    });
  });

  return { animation: false, backgroundColor: "#ffffff", title, grid, xAxis, yAxis, series };
}

export default function App() {
  const ref = useRef<HTMLDivElement>(null);
  useEffect(() => {
    document.body.style.margin = "0";
    const chart = echarts.init(ref.current!, undefined, { renderer: "svg" });
    chart.setOption(buildOption() as any);
    return () => chart.dispose();
  }, []);
  return <div ref={ref} style={{ width: 2044, height: 978, filter: "blur(0.6px)" }} />;
}
